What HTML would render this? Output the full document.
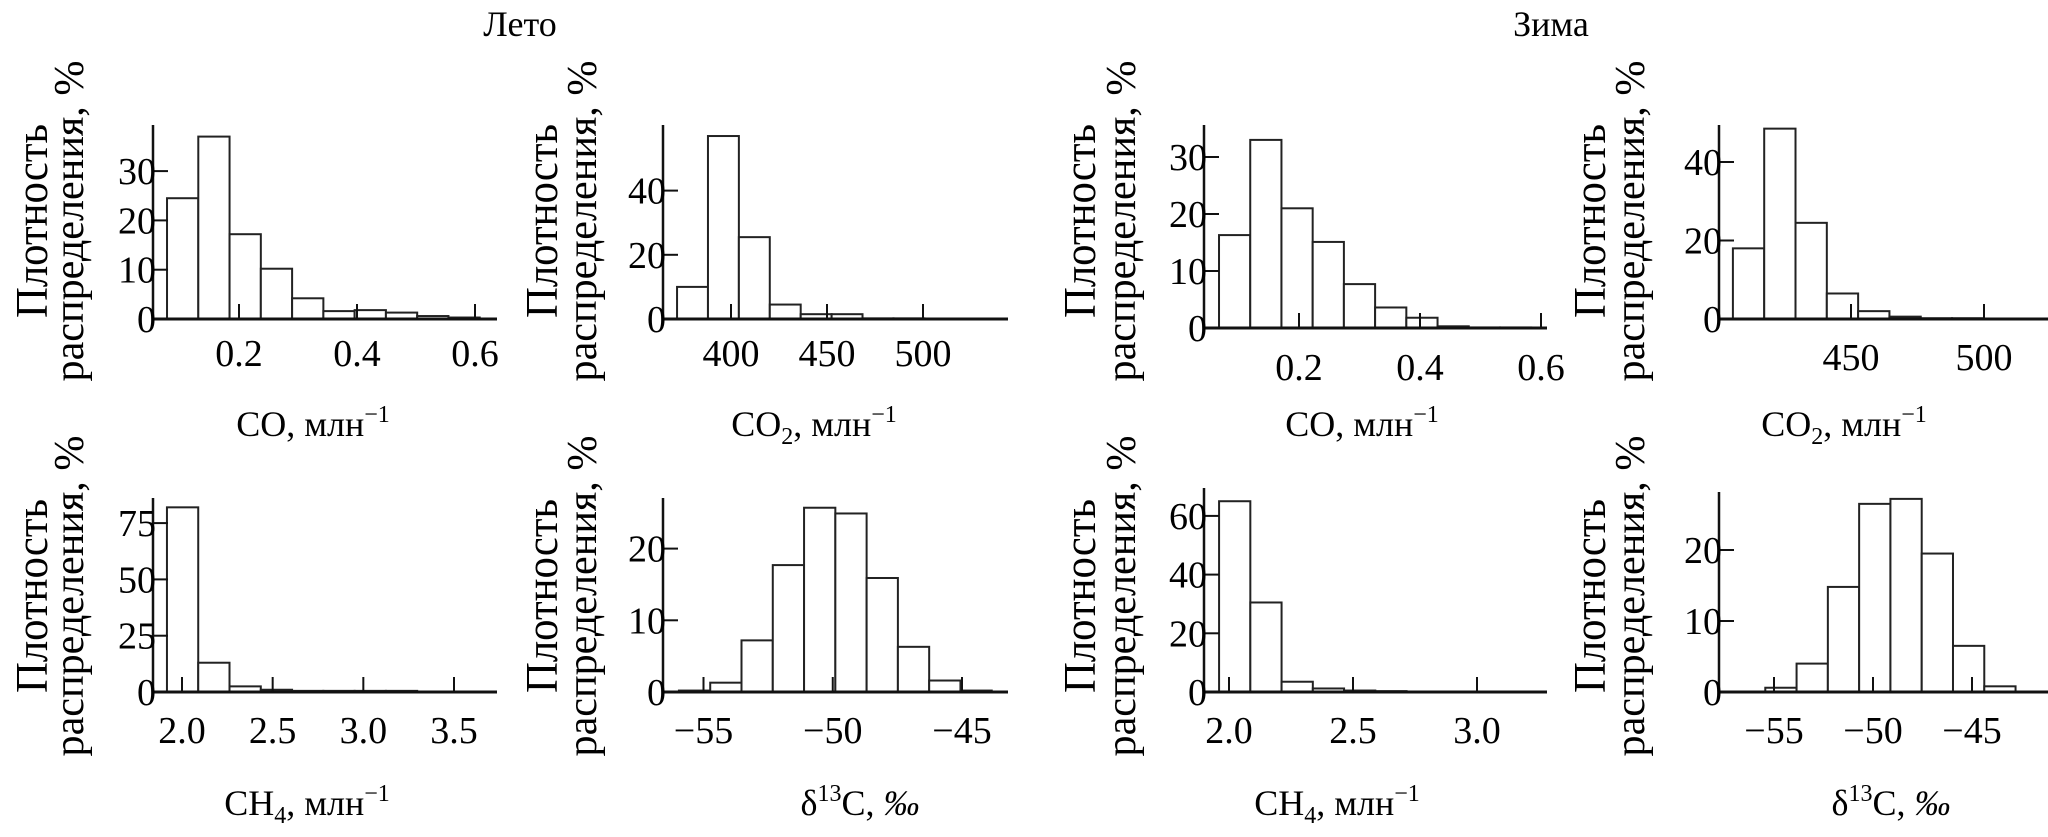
<!DOCTYPE html>
<html><head><meta charset="utf-8">
<style>
html,body{margin:0;padding:0;background:#fff;}
svg{display:block;font-family:"Liberation Serif",serif;}
</style></head>
<body>
<svg id="fig" width="2048" height="837" viewBox="0 0 2048 837" xmlns="http://www.w3.org/2000/svg">
<text x="520" y="36" font-size="36" text-anchor="middle">Лето</text>
<text x="1551" y="36" font-size="36" text-anchor="middle">Зима</text>
</svg>
<script>
// ---- data ----
const sumCoValues = [24.5, 37, 17.2, 10.2, 4.2, 1.6, 1.8, 1.3, 0.6, 0.3];
const sumCoBin = [0.078, 0.053];
const sumCoXTicks = [0.2, 0.4, 0.6];
const sumCoYTicks = [0, 10, 20, 30];

const sumCo2Values = [10, 57, 25.5, 4.5, 1.5, 1.5, 0.2, 0.2];
const sumCo2Bin = [371.9, 16.1];
const sumCo2XTicks = [400, 450, 500];
const sumCo2YTicks = [0, 20, 40];

const sumCh4Values = [82, 13, 2.5, 1, 0.5, 0.5, 0.5, 0.5, 0.2, 0.2];
const sumCh4Bin = [1.917, 0.1725];
const sumCh4XTicks = [2.0, 2.5, 3.0, 3.5];
const sumCh4YTicks = [0, 25, 50, 75];

const sumD13Values = [0.2, 1.3, 7.2, 17.7, 25.7, 24.9, 15.9, 6.3, 1.6, 0.2];
const sumD13Bin = [-55.95, 1.21];
const sumD13XTicks = [-55, -50, -45];
const sumD13YTicks = [0, 10, 20];

const winCoValues = [16.3, 33, 21, 15.1, 7.7, 3.6, 1.8, 0.3, 0.1, 0.1];
const winCoBin = [0.0678, 0.0516];
const winCoXTicks = [0.2, 0.4, 0.6];
const winCoYTicks = [0, 10, 20, 30];

const winCo2Values = [18, 48.5, 24.5, 6.5, 2, 0.6, 0.2, 0.2, 0.1, 0.1];
const winCo2Bin = [405.6, 11.77];
const winCo2XTicks = [450, 500];
const winCo2YTicks = [0, 20, 40];

const winCh4Values = [65, 30.5, 3.5, 1.2, 0.5, 0.3, 0.1, 0.1, 0.1, 0.1];
const winCh4Bin = [1.96, 0.126];
const winCh4XTicks = [2.0, 2.5, 3.0];
const winCh4YTicks = [0, 20, 40, 60];

const winD13Values = [0, 0.6, 4, 14.8, 26.5, 27.2, 19.5, 6.5, 0.8, 0];
const winD13Bin = [-57.02, 1.58];
const winD13XTicks = [-55, -50, -45];
const winD13YTicks = [0, 10, 20];

// ---- layout (pixels) ----
const svg = document.getElementById('fig');
const NS = 'http://www.w3.org/2000/svg';
function mk(tag, attrs, parent){const e=document.createElementNS(NS,tag);for(const k in attrs)e.setAttribute(k,attrs[k]);(parent||svg).appendChild(e);return e;}

const panels = [
 {id:'summer-co', vals:sumCoValues, bin:sumCoBin, xt:sumCoXTicks, yt:sumCoYTicks, dec:1,
  x0:153,x1:497,top:125,base:319, xr:[0.2,239,0.6,475], ypx:4.93, tly:366, lx:[33,70], lcy:221, xlab:['CO',null,313,436]},
 {id:'summer-co2', vals:sumCo2Values, bin:sumCo2Bin, xt:sumCo2XTicks, yt:sumCo2YTicks, dec:0,
  x0:663,x1:1008,top:125,base:319, xr:[400,731,500,923], ypx:3.21, tly:366, lx:[543,583], lcy:221, xlab:['CO','2',814,436]},
 {id:'summer-ch4', vals:sumCh4Values, bin:sumCh4Bin, xt:sumCh4XTicks, yt:sumCh4YTicks, dec:1,
  x0:153,x1:497,top:498,base:692, xr:[2,182,3.5,454], ypx:2.252, tly:743, lx:[33,70], lcy:596, xlab:['CH','4',307,815]},
 {id:'summer-d13c', vals:sumD13Values, bin:sumD13Bin, xt:sumD13XTicks, yt:sumD13YTicks, dec:0,
  x0:663,x1:1008,top:498,base:692, xr:[-55,703.5,-45,962], ypx:7.17, tly:743, lx:[543,583], lcy:596, xlab:['d',null,860,815]},
 {id:'winter-co', vals:winCoValues, bin:winCoBin, xt:winCoXTicks, yt:winCoYTicks, dec:1,
  x0:1204,x1:1547,top:125,base:328, xr:[0.2,1299,0.6,1541], ypx:5.7, tly:380, lx:[1081,1122], lcy:221, xlab:['CO',null,1362,436]},
 {id:'winter-co2', vals:winCo2Values, bin:winCo2Bin, xt:winCo2XTicks, yt:winCo2YTicks, dec:0,
  x0:1719,x1:2048,top:125,base:319, xr:[450,1851,500,1984], ypx:3.925, tly:370, lx:[1591,1631], lcy:221, xlab:['CO','2',1844,436]},
 {id:'winter-ch4', vals:winCh4Values, bin:winCh4Bin, xt:winCh4XTicks, yt:winCh4YTicks, dec:1,
  x0:1204,x1:1547,top:488,base:692, xr:[2,1229,3,1477], ypx:2.935, tly:743, lx:[1081,1122], lcy:596, xlab:['CH','4',1337,815]},
 {id:'winter-d13c', vals:winD13Values, bin:winD13Bin, xt:winD13XTicks, yt:winD13YTicks, dec:0,
  x0:1719,x1:2048,top:492,base:692, xr:[-55,1774,-45,1972], ypx:7.1, tly:743, lx:[1591,1631], lcy:596, xlab:['d',null,1891,815]}
];

function fmt(v,dec){ let s=v.toFixed(dec); return s.replace('-','\u2212'); }

panels.forEach(p=>{
  const g = mk('g',{});
  
  
  const xs = v => p.xr[1] + (v-p.xr[0])*(p.xr[3]-p.xr[1])/(p.xr[2]-p.xr[0]);
  const ys = v => p.base - v*p.ypx;
  p.vals.forEach((v,i)=>{
    const a = xs(p.bin[0]+i*p.bin[1]), b = xs(p.bin[0]+(i+1)*p.bin[1]);
    const r = mk('rect',{x:a,y:ys(v),width:b-a,height:Math.max(0,p.base-ys(v)),fill:'#fff',stroke:'#222','stroke-width':2},g);
    
    
  });
  const ya = mk('line',{x1:p.x0,y1:p.top,x2:p.x0,y2:p.base+1,stroke:'#111','stroke-width':2.5},g);
  
  
  const xa = mk('line',{x1:p.x0-1,y1:p.base,x2:p.x1,y2:p.base,stroke:'#111','stroke-width':3},g);
  
  
  p.yt.forEach(t=>{
    mk('line',{x1:p.x0,y1:ys(t),x2:p.x0+15,y2:ys(t),stroke:'#111','stroke-width':2},g);
    const tx = mk('text',{x:p.x0+3,y:ys(t)+13,'font-size':38,'text-anchor':'end'},g);
    tx.textContent = String(t);
    
    
  });
  p.xt.forEach(t=>{
    const x = xs(t);
    mk('line',{x1:x,y1:p.base,x2:x,y2:p.base-15,stroke:'#111','stroke-width':2},g);
    const tx = mk('text',{x:x,y:p.tly,'font-size':38,'text-anchor':'middle'},g);
    tx.textContent = fmt(t,p.dec);
    
    
  });
  const yt = mk('g',{transform:`translate(${p.lx[0]},${p.lcy}) rotate(-90)`},g);
  
  
  const l1 = mk('text',{x:0,y:14,'font-size':46,'text-anchor':'middle',textLength:194,lengthAdjust:'spacingAndGlyphs'},yt);
  l1.textContent='Плотность';
  const l2 = mk('text',{x:0,y:13+(p.lx[1]-p.lx[0]),'font-size':42,'text-anchor':'middle',textLength:321,lengthAdjust:'spacingAndGlyphs'},yt);
  l2.textContent='распределения, %';
  const xt = mk('text',{x:p.xlab[2],y:p.xlab[3],'font-size':36,'text-anchor':'middle'},g);
  
  
  if(p.xlab[0]==='d'){
    xt.innerHTML = 'δ<tspan font-size="24" dy="-14">13</tspan><tspan dy="14">C, </tspan><tspan font-style="italic">‰</tspan>';
  } else if(p.xlab[1]){
    xt.innerHTML = p.xlab[0]+'<tspan font-size="24" dy="8">'+p.xlab[1]+'</tspan><tspan dy="-8">, млн</tspan><tspan font-size="24" dy="-14">−1</tspan>';
  } else {
    xt.innerHTML = p.xlab[0]+', млн<tspan font-size="24" dy="-14">−1</tspan>';
  }
});
</script>
</body></html>
